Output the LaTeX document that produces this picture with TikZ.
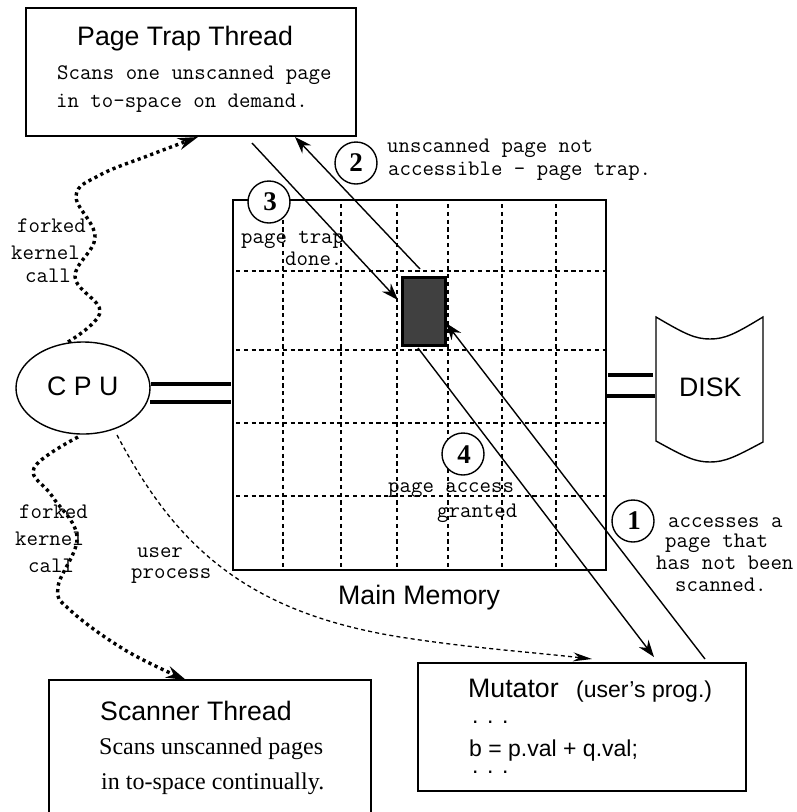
\documentclass[tikz,border=0pt]{standalone}
\usepackage{fontspec}
\setmainfont{Liberation Sans}
\newfontfamily\seriff{Liberation Serif}
\usetikzlibrary{arrows.meta,shapes.geometric}
\definecolor{pagedark}{HTML}{404040}
\tikzset{
  box/.style={draw=black,line width=2pt,fill=none,inner sep=0pt},
  lbl/.style={inner sep=0pt,anchor=base west,font=\fontsize{26.7}{30}\selectfont},
  lblb/.style={inner sep=0pt,anchor=base west,font=\fontsize{23}{27}\selectfont},
  mono/.style={inner sep=0pt,anchor=base west,font=\ttfamily\fontsize{22.2}{24}\selectfont},
  serifl/.style={inner sep=0pt,anchor=base west,font=\seriff\fontsize{24}{28}\selectfont},
  numc/.style={circle,draw=black,fill=white,line width=1.4pt,minimum size=42pt,inner sep=0pt},
  numt/.style={inner sep=0pt,anchor=base,font=\seriff\bfseries\fontsize{27}{30}\selectfont},
  gridl/.style={line width=1.5pt,dash pattern=on 4.2pt off 3.6pt},
  solidarrow/.style={line width=1.4pt,-{Stealth[length=17pt,width=12pt]}},
  fork/.style={line width=3.4pt,dash pattern=on 3.2pt off 3.5pt,-{Stealth[length=20pt,width=12pt]}},
  userp/.style={line width=1.3pt,dash pattern=on 4pt off 3.2pt,-{Stealth[length=19pt,width=9pt]}},
  bus/.style={line width=3.2pt},
}
\begin{document}
\begin{tikzpicture}[x=1pt,y=-1pt]
\useasboundingbox (0,0) rectangle (797,812);
% main memory
\node[inner sep=0pt,minimum width=373pt,minimum height=370pt] (mem) at (419.5,385) {};
\foreach \gx in {283,341,397,448,502,556} \draw[gridl] (\gx,204) -- (\gx,568);
\foreach \gy in {271,350,423,496} \draw[gridl] (236,\gy) -- (608,\gy);
\draw[line width=1.8pt] (mem.south west) -- (mem.north west) -- (mem.north east) -- (mem.south east) -- cycle;
\node[draw=black,fill=pagedark,line width=3pt,minimum width=43pt,minimum height=68pt,inner sep=0pt] (page) at (423.5,311) {};
% boxes
\node[box,minimum width=330pt,minimum height=128pt] (trap) at (191,72) {};
\node[box,minimum width=328pt,minimum height=128pt] (mut) at (582,727) {};
\coordinate (scanA) at (49,812); \coordinate (scanB) at (49,680);
\coordinate (scanC) at (371,680); \coordinate (scanD) at (371,812);
\draw[line width=1.7pt] (scanA) -- (scanB) -- (scanC) -- (scanD);
\node[ellipse,draw=black,line width=1.4pt,minimum width=134pt,minimum height=92pt,inner sep=0pt] (cpu) at (83,388) {};
% disk
\coordinate (dA) at (656,317); \coordinate (dB) at (763,317);
\coordinate (dC) at (763,442); \coordinate (dD) at (656,441);
\draw[line width=1.4pt] (dA) .. controls (685,334) and (695,339) .. (710,339)
  .. controls (725,339) and (735,334) .. (dB) -- (dC)
  .. controls (735,457) and (725,462) .. (710,462)
  .. controls (695,462) and (685,457) .. (dD) -- cycle;
% buses
\coordinate (b1a) at (151,384); \coordinate (b1b) at (231,384);
\coordinate (b2a) at (150,402); \coordinate (b2b) at (231,402);
\coordinate (b3a) at (608,375); \coordinate (b3b) at (653,375);
\coordinate (b4a) at (606,396); \coordinate (b4b) at (655,396);
\draw[bus] (b1a) -- (b1b); \draw[bus] (b2a) -- (b2b);
\draw[bus] (b3a) -- (b3b); \draw[bus] (b4a) -- (b4b);
% numbered arrows
\coordinate (a1s) at (705,659); \coordinate (a1e) at (446,323);
\coordinate (a2s) at (420,269); \coordinate (a2e) at (295,137);
\coordinate (a3s) at (252,143); \coordinate (a3e) at (398,300);
\coordinate (a4s) at (418,348); \coordinate (a4e) at (654,657);
\draw[solidarrow] (a1s) -- (a1e);
\draw[solidarrow] (a2s) -- (a2e);
\draw[solidarrow] (a3s) -- (a3e);
\draw[solidarrow] (a4s) -- (a4e);
% forked kernel calls
\coordinate (f1s) at (68,342); \coordinate (f1e) at (198,137);
\coordinate (f2s) at (78,437); \coordinate (f2e) at (186,680);
\draw[fork] plot[smooth,tension=0.65] coordinates {(f1s) (100,312) (75,277) (95,237) (76,196) (100,175) (150,155) (f1e)};
\draw[fork] plot[smooth,tension=0.65] coordinates {(f2s) (34,468) (52,496) (77,537) (58,587) (70,610) (125,650) (f2e)};
% user process
\coordinate (us) at (117,435); \coordinate (ue) at (592,659);
\draw[userp] (us) .. controls (175,545) and (245,612) .. (400,637) .. controls (470,648) and (530,652) .. (ue);
% circles
\node[numc] (c1) at (633,521) {}; \node[numt] (n1) at (634,529) {1};
\node[numc] (c2) at (356,163) {}; \node[numt] (n2) at (356,171) {2};
\node[numc] (c3) at (269,202) {}; \node[numt] (n3) at (270,210) {3};
\node[numc] (c4) at (463,454) {}; \node[numt] (n4) at (464,463) {4};
% texts
\node[lbl] (t1) at (77,45) {Page Trap Thread};
\node[mono] (t2) at (57,79) {Scans one unscanned page};
\node[mono] (t3) at (56,107) {in to-space on demand.};
\node[mono] (t4) at (387,152) {unscanned page not};
\node[mono] (t5) at (388,175) {accessible - page trap.};
\node[mono] (t6) at (241,243) {page trap};
\node[mono] (t7) at (285,265) {done.};
\node[mono] (t8) at (17,232) {forked};
\node[mono] (t9) at (11,259) {kernel};
\node[mono] (t10) at (25,282) {call};
\node[mono] (t11) at (19,518) {forked};
\node[mono] (t12) at (15,545) {kernel};
\node[mono] (t13) at (28,572) {call};
\node[mono] (t14) at (137,557) {user};
\node[mono] (t15) at (131,578) {process};
\node[mono] (t16) at (388,492) {page access};
\node[mono] (t17) at (437,517) {granted};
\node[mono] (t18) at (668,527) {accesses a};
\node[mono] (t19) at (665,547) {page that};
\node[mono] (t20) at (656,569) {has not been};
\node[mono] (t21) at (675,591) {scanned.};
\node[lbl] (t22) at (338,604) {Main Memory};
\node[lbl] (t23) at (100,720) {Scanner Thread};
\node[serifl] (t24) at (99,754) {Scans unscanned pages};
\node[serifl] (t25) at (101,789) {in to-space continually.};
\node[lbl] (t26) at (468,697) {Mutator};
\node[lblb] (t27) at (576,697) {(user's prog.)};
\node[lblb] (t28) at (472,723) {\smash{. . .}};
\node[lblb] (t29) at (469,756) {b = p.val + q.val;};
\node[lblb] (t30) at (472,773) {\smash{. . .}};
\node[lbl] (t31) at (679,396) {DISK};
\node[lbl] (t32) at (47,395) {C P U};
\end{tikzpicture}
\end{document}
